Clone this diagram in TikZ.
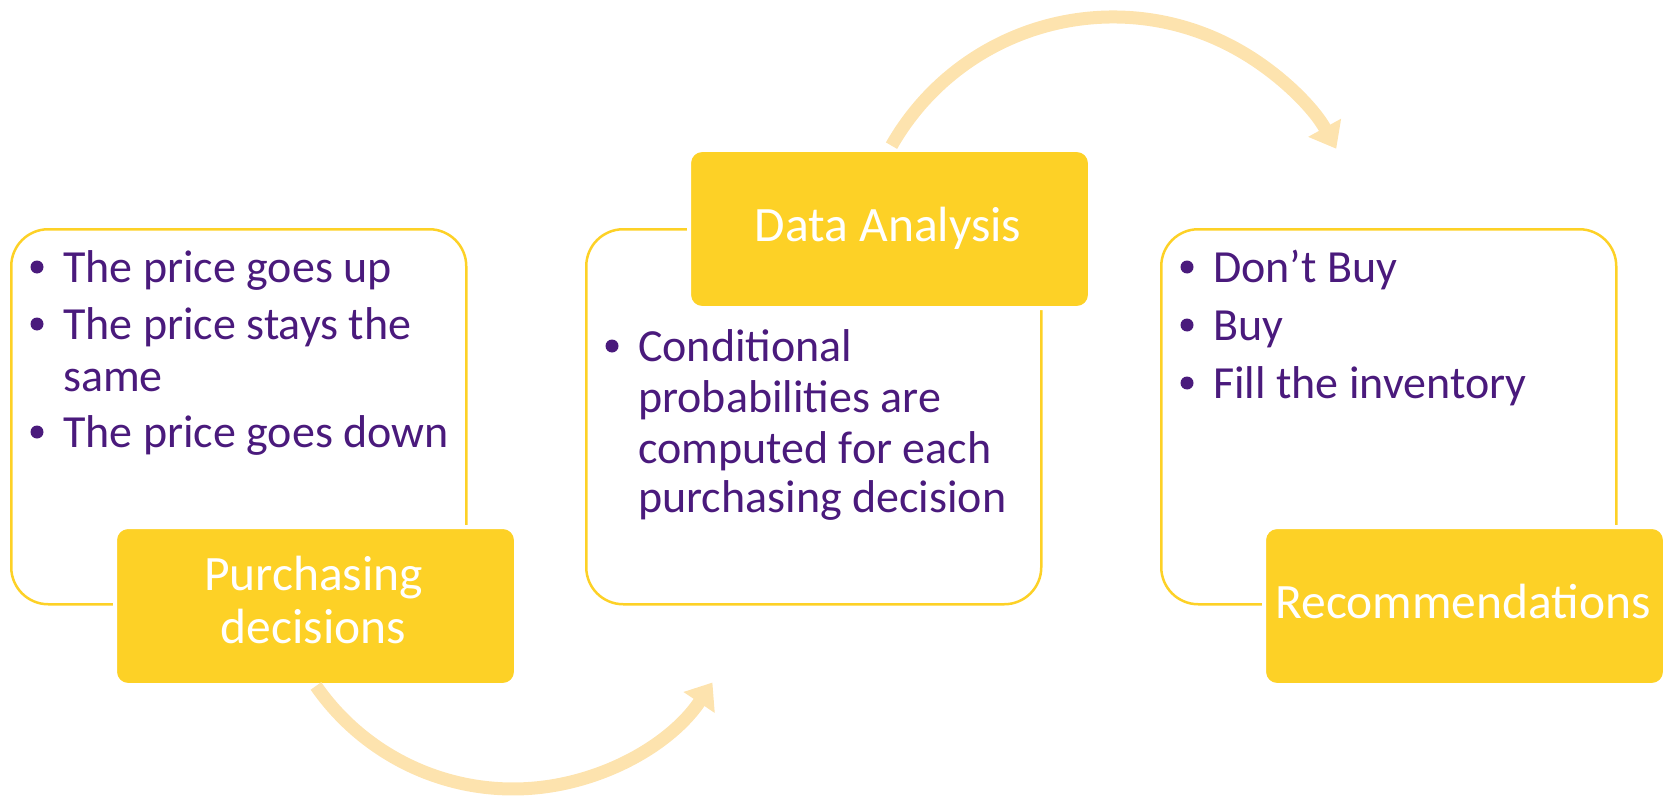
\documentclass[tikz,border=0pt]{standalone}
\usepackage{fontspec}
\setmainfont{Carlito}
\usetikzlibrary{arrows.meta}
\definecolor{boxyellow}{RGB}{253,209,38}
\definecolor{arrowyellow}{RGB}{253,227,174}
\definecolor{txtpurple}{RGB}{74,26,124}
\begin{document}
\begin{tikzpicture}[x=1pt,y=-1pt,
  outlinebox/.style={draw=boxyellow, line width=2.5pt, rounded corners=37pt, minimum width=455pt, minimum height=375pt, anchor=north west, inner sep=0pt},
  labelbox/.style={fill=boxyellow, draw=white, line width=4pt, rounded corners=13pt, minimum width=401pt, minimum height=158pt, anchor=north west, inner sep=0pt},
  labeltext/.style={text=white, font=\fontsize{49.5pt}{53pt}\selectfont, anchor=base, inner sep=0pt},
  itemtext/.style={text=txtpurple, font=\fontsize{46pt}{52pt}\selectfont, anchor=base west, inner sep=0pt},
  bulletdot/.style={circle, fill=txtpurple, inner sep=0pt, minimum size=13pt},
  flowarrow/.style={draw=arrowyellow, line width=13pt, -{Triangle[length=24pt,width=36pt]}}
]
\useasboundingbox (0,0) rectangle (1667,805);
% outline boxes
\node[outlinebox] (o1) at (10,228) {};
\node[outlinebox] (o2) at (585,228) {};
\node[outlinebox] (o3) at (1160,228) {};
% label boxes
\node[labelbox] (l1) at (113,525) {};
\node[labelbox] (l2) at (687,148) {};
\node[labelbox] (l3) at (1262,525) {};
\node[labeltext] (l1a) at (313.5,590) {Purchasing};
\node[labeltext] (l1b) at (313.5,643) {decisions};
\node[labeltext] (l2a) at (888,241) {Data Analysis};
\node[labeltext] (l3a) at (1463,618) {Recommendations};
% box 1 items
\node[bulletdot] (b11) at (37,267) {};
\node[itemtext] (t11) at (63,282) {The price goes up};
\node[bulletdot] (b12) at (37,324) {};
\node[itemtext] (t12) at (63,339) {The price stays the};
\node[itemtext] (t12b) at (63,391) {same};
\node[bulletdot] (b13) at (37,432) {};
\node[itemtext] (t13) at (63,447) {The price goes down};
% box 2 items
\node[bulletdot] (b21) at (612,346) {};
\node[itemtext] (t21) at (638,361) {Conditional};
\node[itemtext] (t21b) at (638,412) {probabilities are};
\node[itemtext] (t21c) at (638,463) {computed for each};
\node[itemtext] (t21d) at (638,512) {purchasing decision};
% box 3 items
\node[bulletdot] (b31) at (1187,267) {};
\node[itemtext] (t31) at (1213,282) {Don’t Buy};
\node[bulletdot] (b32) at (1187,325) {};
\node[itemtext] (t32) at (1213,340) {Buy};
\node[bulletdot] (b33) at (1187,383) {};
\node[itemtext] (t33) at (1213,398) {Fill the inventory};
% arrows
\coordinate (c1) at (513,549);
\coordinate (c2) at (1113,272);
\draw[flowarrow] ([shift={(145.2:240)}]c1) arc[start angle=145.2, end angle=33.8, radius=240];
\draw[flowarrow] ([shift={(209.7:255)}]c2) arc[start angle=209.7, end angle=331.1, radius=255];
\end{tikzpicture}
\end{document}
